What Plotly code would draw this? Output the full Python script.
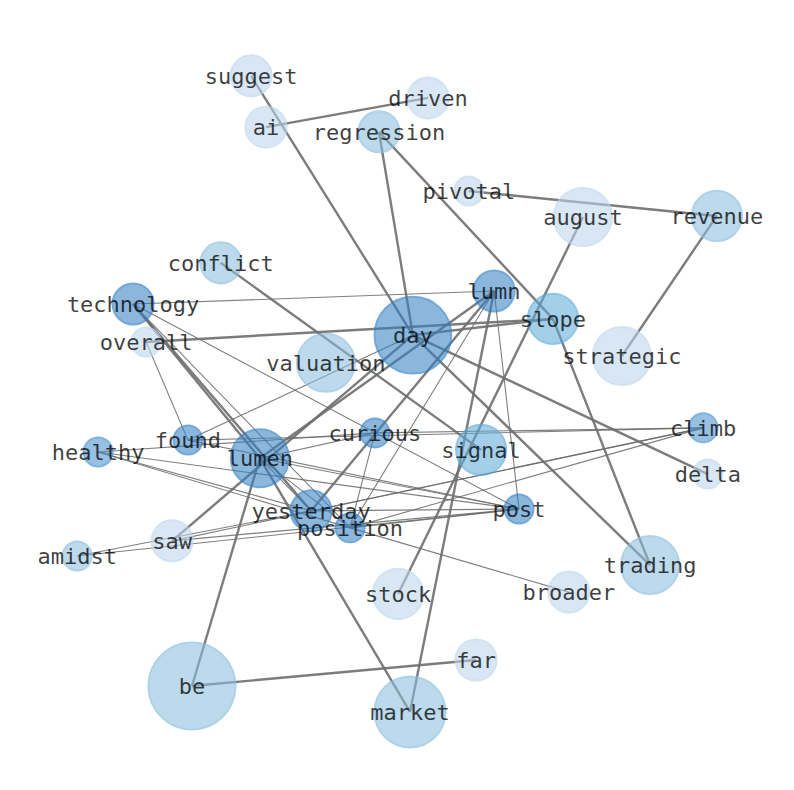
import numpy as np
import plotly.graph_objects as go

# word nodes, layout coordinates, counts and shade level
words = ["suggest", "driven", "ai", "regression", "pivotal", "august", "revenue",
         "conflict", "technology", "lumn", "overall", "day", "slope", "valuation",
         "strategic", "found", "curious", "healthy", "lumen", "signal", "climb",
         "delta", "yesterday", "post", "position", "saw", "amidst", "trading",
         "stock", "broader", "far", "be", "market"]
pos_x = [-0.404, 0.086, -0.363, -0.050, 0.199, 0.515, 0.886,
         -0.488, -0.731, 0.269, -0.695, 0.044, 0.432, -0.197,
         0.623, -0.579, -0.061, -0.828, -0.380, 0.233, 0.848,
         0.861, -0.238, 0.338, -0.130, -0.623, -0.886, 0.701,
         0.003, 0.476, 0.219, -0.568, 0.036]
pos_y = [0.884, 0.823, 0.742, 0.729, 0.565, 0.493, 0.496,
         0.366, 0.252, 0.288, 0.147, 0.166, 0.211, 0.089,
         0.108, -0.125, -0.105, -0.158, -0.175, -0.152, -0.091,
         -0.219, -0.321, -0.316, -0.368, -0.404, -0.446, -0.471,
         -0.551, -0.546, -0.734, -0.806, -0.878]
counts = [2, 2, 2, 2, 1, 4, 3,
          2, 2, 2, 1, 7, 3, 4,
          4, 1, 1, 1, 4, 3, 1,
          1, 2, 1, 1, 2, 1, 4,
          3, 2, 2, 9, 6]
level = [1, 1, 1, 2, 1, 1, 2,
         2, 5, 5, 1, 5, 3, 2,
         1, 5, 5, 4, 5, 3, 4,
         1, 5, 5, 5, 1, 2, 2,
         1, 1, 1, 2, 2]

strong_edges = [("suggest", "day"), ("ai", "driven"), ("regression", "day"),
                ("regression", "slope"), ("pivotal", "revenue"), ("august", "stock"),
                ("revenue", "strategic"), ("conflict", "signal"), ("overall", "slope"),
                ("day", "slope"), ("day", "delta"), ("day", "trading"),
                ("slope", "trading"), ("technology", "lumen"), ("technology", "yesterday"),
                ("market", "lumen"), ("saw", "day"), ("lumen", "be"), ("be", "far"),
                ("market", "lumn"), ("lumen", "lumn"), ("yesterday", "lumn")]
weak_edges = [("technology", "lumn"), ("technology", "post"), ("technology", "position"),
              ("overall", "found"), ("found", "day"), ("found", "post"),
              ("found", "climb"), ("healthy", "curious"), ("healthy", "yesterday"),
              ("healthy", "position"), ("healthy", "post"), ("lumen", "curious"),
              ("lumen", "post"), ("lumen", "yesterday"), ("lumen", "position"),
              ("curious", "position"), ("yesterday", "post"), ("yesterday", "climb"),
              ("position", "climb"), ("position", "post"), ("position", "broader"),
              ("position", "lumn"), ("amidst", "yesterday"), ("amidst", "post"),
              ("saw", "climb"), ("saw", "post"), ("lumn", "post"), ("curious", "climb")]

shades = {1: (188, 214, 236), 2: (138, 190, 220), 3: (92, 170, 216),
          4: (72, 144, 204), 5: (50, 128, 196)}

idx = {w: i for i, w in enumerate(words)}


def edge_trace(edges, width, color):
    xs, ys = [], []
    for a, b in edges:
        xs += [pos_x[idx[a]], pos_x[idx[b]], None]
        ys += [pos_y[idx[a]], pos_y[idx[b]], None]
    return go.Scatter(x=xs, y=ys, mode="lines", hoverinfo="skip",
                      line=dict(width=width, color=color), showlegend=False)


fig = go.Figure()
fig.add_trace(edge_trace(weak_edges, 1.1, "rgba(105,105,105,0.85)"))
fig.add_trace(edge_trace(strong_edges, 2.4, "rgba(110,110,110,0.9)"))

fill = ["rgba(%d,%d,%d,0.8)" % shades[l] for l in level]
ring = ["rgba(%d,%d,%d,0.95)" % shades[l] for l in level]
fig.add_trace(go.Scatter(
    x=pos_x, y=pos_y, mode="markers",
    marker=dict(size=29 * np.sqrt(counts), color=fill,
                line=dict(width=2, color=ring)),
    showlegend=False, hovertext=words, hoverinfo="text"))

# labels sit a touch lower than plotly's default middle alignment
label_y = [y - 0.007 for y in pos_y]
fig.add_trace(go.Scatter(
    x=pos_x, y=label_y, mode="text", text=words, textposition="middle center",
    textfont=dict(family="DejaVu Sans Mono", size=22, color="rgba(0,0,0,0.75)"),
    showlegend=False, hoverinfo="skip"))

# page body adds an 8px offset, so the ranges are shifted to keep the layout in place
fig.update_layout(
    width=786, height=782, margin=dict(l=0, r=0, t=0, b=0),
    paper_bgcolor="white", plot_bgcolor="white",
    xaxis=dict(range=[-389 / 361, 397 / 361], visible=False),
    yaxis=dict(range=[-395 / 361, 387 / 361], visible=False),
)
fig.write_html("out.html")
